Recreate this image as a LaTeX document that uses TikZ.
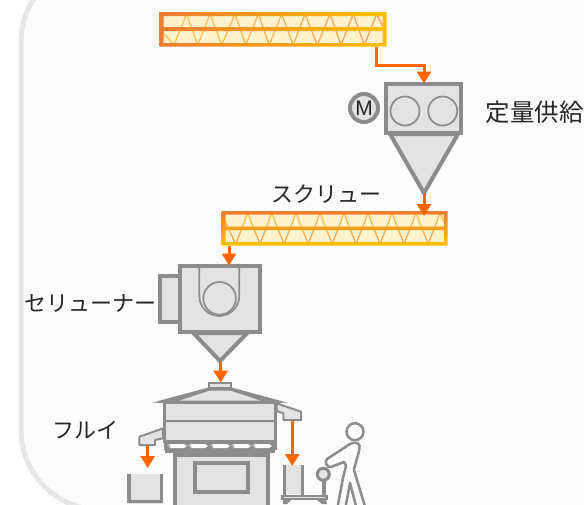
\documentclass[tikz,border=0pt]{standalone}
\usepackage{fontspec}
\setmainfont{Noto Sans CJK JP}
\newfontfamily\latinf{Liberation Sans}
\usetikzlibrary{arrows.meta}
\definecolor{orA}{HTML}{EE7D31}
\definecolor{yeA}{HTML}{FFC000}
\definecolor{zY}{HTML}{FFC64D}
\definecolor{zO}{HTML}{F29A55}
\definecolor{creamf}{HTML}{FFF2CC}
\definecolor{mach}{HTML}{8C8C8C}
\definecolor{machf}{HTML}{E3E3E3}
\definecolor{flow}{HTML}{FF6600}
\definecolor{panel}{HTML}{E6E6E6}
\definecolor{panelf}{HTML}{FCFCFC}
\definecolor{labelc}{HTML}{262626}
\tikzset{
  machine/.style={draw=mach,fill=machf,line width=4pt,miter limit=20},
  thinpart/.style={draw=mach,line width=1.7pt},
  flowline/.style={draw=flow,line width=3pt,-{Triangle[width=14pt,length=12pt]}},
  lbl/.style={text=labelc,inner sep=0pt,font=\fontsize{22}{24}\selectfont}
}
\newcommand{\zzdraw}[2]{%
  \foreach \ax/\ay/\bx/\by in {#1}{%
    \foreach \k in {0,...,5}{%
      \pgfmathsetmacro\sx{\ax+(\bx-\ax)*\k/6}%
      \pgfmathsetmacro\sy{\ay+(\by-\ay)*\k/6}%
      \pgfmathsetmacro\ex{\ax+(\bx-\ax)*(\k+1)/6}%
      \pgfmathsetmacro\ey{\ay+(\by-\ay)*(\k+1)/6}%
      \pgfmathtruncatemacro\p{#2}%
      \draw[color=zY!\p!zO,line width=1.2pt,line cap=round] (\sx,\sy) -- (\ex,\ey);
    }%
  }%
}
\begin{document}
\begin{tikzpicture}[x=1pt,y=-1pt]
\useasboundingbox (0,0) rectangle (584,504);
% panel
\path[fill=panelf,draw=panel,line width=5pt]
  (700,-38) -- (101,-38) .. controls (57,-38) and (21,-2) .. (21,42)
  -- (21,430) .. controls (21,474) and (57,510) .. (101,510) -- (700,510) -- cycle;

% upper screw
\fill[creamf] (160,12) rectangle (386,46);
\zzdraw{163.5/33/174/45, 174/45/186.7/14, 186.7/14/197.7/45, 197.7/45/210/14, 210/14/221.7/45, 221.7/45/235/14, 235/14/245.7/45, 245.7/45/258.3/14, 258.3/14/269.3/45, 269.3/45/281.7/14, 281.7/14/293.3/45, 293.3/45/305/14, 305/14/317.3/45, 317.3/45/330/14, 330/14/341/45, 341/45/353.3/14, 353.3/14/364.3/45, 364.3/45/376.7/14, 376.7/14/382.5/26}{(386-\sx)/226*100}
\shade[left color=orA,right color=yeA,even odd rule]
  (159.5,12) rectangle (386.7,46.7) (163.5,16) rectangle (382.7,27) (163.5,31) rectangle (382.7,43);

% lower screw
\fill[creamf] (222,211) rectangle (447,245);
\zzdraw{225.5/222/235.7/244, 235.7/244/247.7/213, 247.7/213/260/244, 260/244/271.7/213, 271.7/213/284/244, 284/244/296/213, 296/213/308.3/244, 308.3/244/320/213, 320/213/332.3/244, 332.3/244/344/213, 344/213/356/244, 356/244/368/213, 368/213/380/244, 380/244/392/213, 392/213/404/244, 404/244/416/213, 416/213/428.3/244, 428.3/244/440/213, 440/213/444/222}{(246-\sy)/35*100}
\shade[top color=orA,bottom color=yeA,even odd rule]
  (221.7,211) rectangle (447.7,245.7) (225.5,214.5) rectangle (444,226.7) (225.5,230) rectangle (444,242);

% feeder
\draw[machine] (390,134) -- (424,193) -- (458,134) -- cycle;
\draw[machine] (386,84) rectangle (461.4,133.4);
\node[draw=mach,line width=1.7pt,circle,minimum size=29pt,inner sep=0pt] (rollA) at (405,111) {};
\node[draw=mach,line width=1.7pt,circle,minimum size=29pt,inner sep=0pt] (rollB) at (442.7,111) {};
\node[draw=mach,fill=machf,line width=4pt,circle,minimum size=28pt,inner sep=0pt,text=labelc,font=\latinf\fontsize{21}{21}\selectfont] (motor) at (364,108) {M};

% celliner
\draw[machine] (159.7,276.3) rectangle (179.7,322);
\draw[machine] (193.3,333) -- (220,361) -- (247.3,333) -- cycle;
\draw[machine] (179.7,266.3) rectangle (259.7,332);
\draw[thinpart] (199.3,267) -- (199.3,296) .. controls (199.3,307) and (208.3,316) .. (219.3,316) .. controls (230.3,316) and (239.3,307) .. (239.3,296) -- (239.3,267);
\node[draw=mach,line width=1.7pt,circle,minimum size=32.6pt,inner sep=0pt] (rotor) at (219.6,298.3) {};

% sieve
\draw[draw=mach,fill=machf,line width=2pt,line join=round] (276.7,403.3) -- (301,411.7) -- (301,420) -- (283.3,420) -- (283.3,413.3) -- (276.7,411) -- cycle;
\draw[draw=mach,fill=machf,line width=2pt,line join=round] (163.3,428.3) -- (139.3,436.7) -- (139.3,445) -- (155,445) -- (155,440) -- (163,438.3) -- cycle;
\fill[mach] (152.7,402.5) -- (208.3,387.5) -- (231.7,387.5) -- (286.7,402.5) -- (275,403) -- (165,403) -- cycle;
\fill[machf] (180,400.5) -- (210,390.5) -- (230,390.5) -- (260,400.5) -- cycle;
\draw[draw=mach,fill=machf,line width=2pt] (209.3,383.3) rectangle (230.7,388.3);
\draw[draw=mach,fill=machf,line width=3.5pt] (164.7,402.5) rectangle (275.5,441.5);
\draw[thinpart] (164.7,420.7) -- (275.5,420.7);
\fill[mach] (164,442) rectangle (277,449.5);
\foreach \cx in {177,198,220,241,262}{
  \fill[white] (\cx-10,445) -- (\cx-6,446) -- (\cx-8,444) -- (\cx+7,444) -- (\cx+10,446) -- (\cx+7,448) -- (\cx-8,448) -- (\cx-6,447) -- cycle;
}
\fill[mach] (165,449) rectangle (275,453.3);
\draw[machine] (175.3,455) -- (175.3,510) -- (268,510) -- (268,455) -- cycle;
\draw[machine] (195.3,463) rectangle (248,492.3);

% left bin
\fill[machf] (129,473.5) rectangle (161.7,504);
\draw[draw=mach,line width=3.5pt] (129,473.5) -- (129,501.5) -- (161.7,501.5) -- (161.7,473.5);

% cart and right bin
\fill[machf] (284,465) rectangle (302.5,494);
\fill[mach] (282.7,465) rectangle (286,495);
\fill[mach] (300.7,465) rectangle (304,495);
\draw[draw=mach,line width=3.5pt] (324,478) -- (324,496);
\node[draw=mach,fill=machf,line width=3pt,circle,minimum size=12pt,inner sep=0pt] (ball) at (323.3,474.3) {};
\fill[mach] (281,495) rectangle (328.3,500.3);
\fill[machf] (284,497) rectangle (325,498.2);
\fill[mach] (283,500) -- (291,500) -- (287,504) -- (283,504) -- cycle;
\fill[mach] (317,500) -- (326,500) -- (327,504) -- (322,504) -- cycle;

% worker
\draw[draw=mach,fill=panelf,line width=2.5pt,line join=round]
  (327,459) -- (350,444) .. controls (354,442) and (359,442) .. (359.5,446) .. controls (360,451) and (356,460) .. (354,470)
  -- (366,510) -- (357,510) -- (350,483) -- (345,510) -- (337,510) -- (343,478) -- (346,466) -- (344,462) -- (331,467)
  .. controls (327,468) and (324,462) .. (327,459) -- cycle;
\node[draw=mach,fill=panelf,line width=2.5pt,circle,minimum size=17pt,inner sep=0pt] (head) at (355,431.7) {};

% labels
\node[lbl,anchor=west,font=\fontsize{24.5}{26}\selectfont] (lblfeed) at (485.5,112) {定量供給};
\node[lbl,anchor=center] (lblscrew) at (326,194) {スクリュー};
\node[lbl,anchor=center] (lblcell) at (90,303) {セリューナー};
\node[lbl,anchor=center] (lblsieve) at (85.5,430) {フルイ};

% connectors
\coordinate (s1out) at (376,47);
\coordinate (f1in) at (424,83.5);
\coordinate (f1out) at (424,193);
\coordinate (s2in) at (424,216);
\coordinate (s2out) at (229,246);
\coordinate (c1in) at (229,265.5);
\coordinate (c1out) at (220.7,361);
\coordinate (v1in) at (220.7,382.5);
\coordinate (chl) at (147.7,445);
\coordinate (binl) at (147.7,468);
\coordinate (chr) at (292.3,421);
\coordinate (binr) at (292.3,466);
\draw[flowline,line join=miter] (s1out) |- (395,65.5) -| (f1in);
\draw[flowline] (f1out) -- (s2in);
\draw[flowline] (s2out) -- (c1in);
\draw[flowline] (c1out) -- (v1in);
\draw[flowline] (chl) -- (binl);
\draw[flowline] (chr) -- (binr);
\end{tikzpicture}
\end{document}
